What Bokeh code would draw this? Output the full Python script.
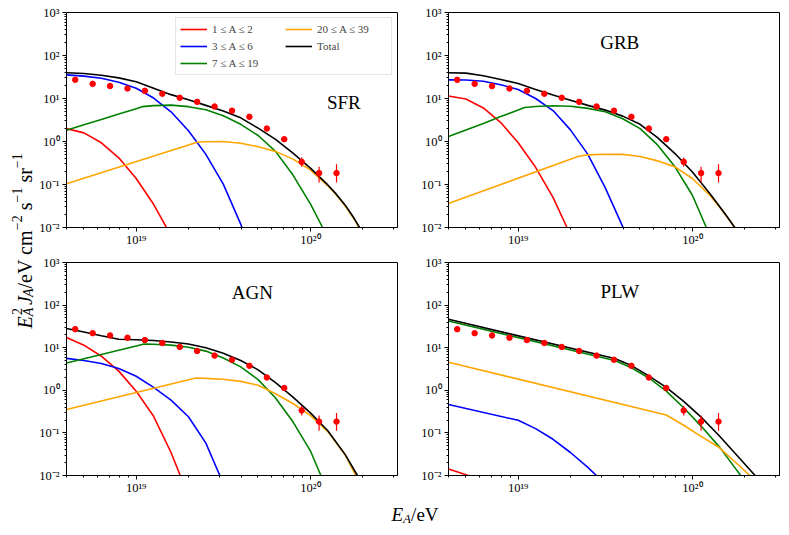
import math
from bokeh.plotting import figure
from bokeh.models import (Range1d, FixedTicker, CustomJSTickFormatter, Legend,
                          LegendItem, Label)
from bokeh.core.properties import value
from bokeh.layouts import row, column
from bokeh.embed import file_html
from bokeh.resources import INLINE

# ---------------- data (log10 E/eV for energies) ----------------
DATA_LGE = [18.65, 18.75, 18.85, 18.95, 19.05, 19.15, 19.25, 19.35,
            19.45, 19.55, 19.65, 19.75, 19.85, 19.95, 20.05, 20.15]
DATA_VAL = [27.2, 21.9, 19.4, 17.1, 15.1, 12.9, 10.4, 8.36,
            6.52, 5.21, 3.75, 2.00, 1.13, 0.336, 0.184, 0.184]
ERR_LGE = [19.95, 20.05, 20.15]
ERR_LO = [0.257, 0.112, 0.112]
ERR_HI = [0.427, 0.257, 0.295]

# curves: log10 E and log10 (E^2 J)
SFR_RED_X = [18.6, 18.7, 18.8, 18.9, 19.0, 19.1, 19.2, 19.25]
SFR_RED_Y = [0.30, 0.20, -0.03, -0.38, -0.86, -1.46, -2.19, -2.6]
SFR_BLUE_X = [18.6, 18.7, 18.8, 18.9, 19.0, 19.1, 19.2, 19.3, 19.4, 19.5, 19.6, 19.65]
SFR_BLUE_Y = [1.55, 1.52, 1.47, 1.38, 1.24, 1.01, 0.69, 0.25, -0.30, -0.99, -1.92, -2.5]
SFR_GREEN_X = [18.6, 18.7, 18.8, 18.9, 19.0, 19.035, 19.1, 19.2, 19.3, 19.4, 19.5,
               19.6, 19.7, 19.8, 19.9, 20.0, 20.07, 20.12]
SFR_GREEN_Y = [0.26, 0.39, 0.51, 0.64, 0.76, 0.81, 0.835, 0.845, 0.81, 0.74, 0.60,
               0.40, 0.14, -0.23, -0.78, -1.45, -2.0, -2.45]
SFR_ORANGE_X = [18.6, 19.35, 19.4, 19.5, 19.6, 19.7, 19.8, 19.9, 20.0, 20.1, 20.15,
                20.2, 20.25, 20.3]
SFR_ORANGE_Y = [-0.98, -0.016, -0.005, 0.0, -0.04, -0.12, -0.23, -0.41, -0.66, -1.03, -1.25,
                -1.50, -1.80, -2.14]
SFR_TOTAL_X = [18.6, 18.7, 18.8, 18.9, 19.0, 19.1, 19.2, 19.3, 19.4, 19.5, 19.6, 19.7,
               19.8, 19.9, 20.0, 20.1, 20.15, 20.2, 20.25, 20.3]
SFR_TOTAL_Y = [1.60, 1.58, 1.54, 1.48, 1.39, 1.24, 1.09, 0.97, 0.84, 0.71, 0.55, 0.31,
               0.05, -0.27, -0.62, -1.01, -1.23, -1.48, -1.78, -2.12]

GRB_RED_X = [18.6, 18.7, 18.8, 18.9, 19.0, 19.1, 19.2, 19.28, 19.33]
GRB_RED_Y = [1.06, 0.99, 0.78, 0.44, -0.03, -0.60, -1.30, -2.0, -2.45]
GRB_BLUE_X = [18.6, 18.7, 18.8, 18.9, 19.0, 19.1, 19.2, 19.3, 19.4, 19.5, 19.6, 19.65]
GRB_BLUE_Y = [1.434, 1.43, 1.40, 1.32, 1.21, 1.00, 0.72, 0.27, -0.30, -1.08, -1.98, -2.5]
GRB_GREEN_X = [18.6, 18.7, 18.8, 18.9, 19.0, 19.037, 19.1, 19.2, 19.3, 19.4, 19.5,
               19.6, 19.7, 19.8, 19.9, 20.0, 20.08, 20.13]
GRB_GREEN_Y = [0.116, 0.27, 0.42, 0.58, 0.73, 0.79, 0.815, 0.83, 0.82, 0.77, 0.69,
               0.53, 0.30, -0.08, -0.59, -1.25, -2.0, -2.5]
GRB_ORANGE_X = [18.6, 19.343, 19.4, 19.5, 19.6, 19.7, 19.8, 19.9, 20.0, 20.1, 20.157,
                20.2, 20.243, 20.29]
GRB_ORANGE_Y = [-1.44, -0.349, -0.31, -0.295, -0.30, -0.35, -0.45, -0.59, -0.86, -1.25, -1.53,
                -1.76, -2.0, -2.35]
GRB_TOTAL_X = [18.6, 18.7, 18.8, 18.9, 19.0, 19.1, 19.2, 19.3, 19.4, 19.5, 19.6, 19.7,
               19.8, 19.9, 20.0, 20.1, 20.2, 20.243, 20.29]
GRB_TOTAL_Y = [1.60, 1.59, 1.53, 1.44, 1.35, 1.21, 1.08, 0.96, 0.84, 0.73, 0.59, 0.40,
               0.09, -0.28, -0.71, -1.21, -1.75, -2.0, -2.35]

AGN_RED_X = [18.6, 18.7, 18.8, 18.9, 19.0, 19.1, 19.2, 19.25, 19.3]
AGN_RED_Y = [1.24, 1.06, 0.80, 0.45, -0.02, -0.61, -1.46, -1.97, -2.45]
AGN_BLUE_X = [18.6, 18.7, 18.8, 18.9, 19.0, 19.1, 19.2, 19.3, 19.4, 19.48, 19.52]
AGN_BLUE_Y = [0.75, 0.70, 0.63, 0.51, 0.33, 0.07, -0.23, -0.62, -1.24, -2.0, -2.4]
AGN_GREEN_X = [18.6, 18.7, 18.8, 18.9, 19.0, 19.044, 19.1, 19.2, 19.3, 19.4, 19.5,
               19.6, 19.7, 19.8, 19.9, 20.0, 20.06, 20.11]
AGN_GREEN_Y = [0.64, 0.74, 0.84, 0.94, 1.04, 1.085, 1.08, 1.06, 1.01, 0.92, 0.76,
               0.55, 0.25, -0.18, -0.74, -1.42, -2.0, -2.5]
AGN_ORANGE_X = [18.6, 19.342, 19.4, 19.5, 19.6, 19.7, 19.8, 19.9, 20.0, 20.1, 20.2, 20.26, 20.3]
AGN_ORANGE_Y = [-0.45, 0.287, 0.28, 0.26, 0.21, 0.12, -0.08, -0.31, -0.59, -0.97, -1.52, -2.0, -2.35]
AGN_TOTAL_X = [18.6, 18.7, 18.8, 18.9, 19.0, 19.1, 19.2, 19.3, 19.4, 19.5, 19.6, 19.7,
               19.8, 19.9, 20.0, 20.1, 20.2, 20.27, 20.31]
AGN_TOTAL_Y = [1.45, 1.37, 1.28, 1.20, 1.185, 1.17, 1.135, 1.085, 1.00, 0.87, 0.70, 0.48,
               0.18, -0.16, -0.53, -0.95, -1.51, -2.0, -2.35]

PLW_RED_X = [18.6, 18.75]
PLW_RED_Y = [-1.845, -2.05]
PLW_BLUE_X = [18.6, 19.0, 19.1, 19.2, 19.3, 19.4, 19.449, 19.5]
PLW_BLUE_Y = [-0.333, -0.705, -0.90, -1.15, -1.46, -1.81, -2.0, -2.2]
PLW_GREEN_X = [18.6, 19.554, 19.65, 19.75, 19.85, 19.95, 20.05, 20.157, 20.25, 20.277, 20.32]
PLW_GREEN_Y = [1.628, 0.698, 0.53, 0.29, -0.02, -0.41, -0.84, -1.34, -1.85, -2.0, -2.3]
PLW_ORANGE_X = [18.6, 19.85, 19.95, 20.05, 20.15, 20.25, 20.33, 20.37]
PLW_ORANGE_Y = [0.659, -0.58, -0.82, -1.08, -1.33, -1.70, -2.0, -2.2]
PLW_TOTAL_X = [18.6, 19.554, 19.65, 19.75, 19.85, 19.95, 20.05, 20.15, 20.25, 20.36, 20.4]
PLW_TOTAL_Y = [1.667, 0.745, 0.58, 0.34, 0.07, -0.26, -0.63, -1.05, -1.50, -2.0, -2.2]

LEGEND_LABELS = ["1 \u2264 A \u2264 2", "3 \u2264 A \u2264 6", "7 \u2264 A \u2264 19",
                 "20 \u2264 A \u2264 39", "Total"]
COLORS = ["#ff0000", "#0000ff", "#008000", "#ffa500", "#000000"]
PANEL_NAMES = ["SFR", "GRB", "AGN", "PLW"]

Y_MAJOR = [1e-2, 1e-1, 1e0, 1e1, 1e2, 1e3]
X_MAJOR = [1e19, 1e20]

FONT = "Liberation Serif"


def tick_formatter():
    return CustomJSTickFormatter(code="""
const e = Math.round(Math.log10(tick));
const m = {"-":"\\u207B","0":"\\u2070","1":"\\u00B9","2":"\\u00B2","3":"\\u00B3",
           "4":"\\u2074","5":"\\u2075","6":"\\u2076","7":"\\u2077","8":"\\u2078","9":"\\u2079"};
return "10" + String(e).split("").map(c => m[c]).join("");
""")


def panel(name, curves, title_pos, w, h, bl, br, bt, bb, legend=False):
    p = figure(width=w, height=h, x_axis_type="log", y_axis_type="log",
               x_range=Range1d(10 ** 18.6, 10 ** 20.5), y_range=Range1d(1e-2, 1e3),
               output_backend="svg", toolbar_location=None,
               min_border_left=bl, min_border_right=br,
               min_border_top=bt, min_border_bottom=bb)
    p.grid.visible = False
    p.outline_line_color = "black"
    p.outline_line_width = 1
    p.background_fill_color = "white"
    p.border_fill_color = "white"

    y_minor = [m * 10.0 ** k for k in range(-2, 3) for m in range(2, 10)]
    x_minor = [m * 10.0 ** k for k in (18, 19, 20) for m in range(2, 10)]
    p.yaxis.ticker = FixedTicker(ticks=Y_MAJOR, minor_ticks=y_minor)
    p.xaxis.ticker = FixedTicker(ticks=X_MAJOR, minor_ticks=x_minor)
    for ax in (p.xaxis[0], p.yaxis[0]):
        ax.formatter = tick_formatter()
        ax.axis_line_color = "black"
        ax.major_tick_line_color = "black"
        ax.minor_tick_line_color = "black"
        ax.major_tick_in = 0
        ax.major_tick_out = 4
        ax.minor_tick_in = 0
        ax.minor_tick_out = 2
        ax.major_label_text_font = FONT
        ax.major_label_text_font_size = "12.5px"
        ax.major_label_text_color = "black"
    p.xaxis.major_label_standoff = 1
    p.yaxis.major_label_standoff = 3

    rends = []
    for (xs, ys), col in zip(curves, COLORS):
        r = p.line([10 ** v for v in xs], [10 ** v for v in ys],
                   line_color=col, line_width=1.6)
        rends.append(r)

    ex = [10 ** v for v in ERR_LGE]
    p.segment(x0=ex, y0=ERR_LO, x1=ex, y1=ERR_HI, line_color="#ff0000", line_width=1.2)
    p.scatter([10 ** v for v in DATA_LGE], DATA_VAL, marker="circle", size=5.5,
              fill_color="#ff0000", line_color="#ff0000")

    p.add_layout(Label(x=10 ** title_pos[0], y=10 ** title_pos[1], text=name,
                       text_align="center", text_baseline="middle",
                       text_font=FONT, text_font_size="19px", text_color="black"))

    if legend:
        items = [LegendItem(label=lab, renderers=[r]) for lab, r in zip(LEGEND_LABELS, rends)]
        leg = Legend(items=items, location="top_right", ncols=2,
                     label_text_font=FONT, label_text_font_size="11px",
                     glyph_width=27, glyph_height=14, label_height=14,
                     label_width=70, label_standoff=5, spacing=3,
                     padding=4, margin=5,
                     border_line_color="#cccccc", border_line_width=1,
                     background_fill_alpha=0.85)
        p.add_layout(leg)
    return p


tl = panel(PANEL_NAMES[0],
           [(SFR_RED_X, SFR_RED_Y), (SFR_BLUE_X, SFR_BLUE_Y), (SFR_GREEN_X, SFR_GREEN_Y),
            (SFR_ORANGE_X, SFR_ORANGE_Y), (SFR_TOTAL_X, SFR_TOTAL_Y)],
           (20.192, 0.90), 372, 254, 30, 11, 12, 27, legend=True)
tr = panel(PANEL_NAMES[1],
           [(GRB_RED_X, GRB_RED_Y), (GRB_BLUE_X, GRB_BLUE_Y), (GRB_GREEN_X, GRB_GREEN_Y),
            (GRB_ORANGE_X, GRB_ORANGE_Y), (GRB_TOTAL_X, GRB_TOTAL_Y)],
           (19.583, 2.295), 373, 254, 40, 2, 12, 27)
bl = panel(PANEL_NAMES[2],
           [(AGN_RED_X, AGN_RED_Y), (AGN_BLUE_X, AGN_BLUE_Y), (AGN_GREEN_X, AGN_GREEN_Y),
            (AGN_ORANGE_X, AGN_ORANGE_Y), (AGN_TOTAL_X, AGN_TOTAL_Y)],
           (19.667, 2.295), 372, 243, 30, 11, 8, 20)
br = panel(PANEL_NAMES[3],
           [(PLW_RED_X, PLW_RED_Y), (PLW_BLUE_X, PLW_BLUE_Y), (PLW_GREEN_X, PLW_GREEN_Y),
            (PLW_ORANGE_X, PLW_ORANGE_Y), (PLW_TOTAL_X, PLW_TOTAL_Y)],
           (19.583, 2.32), 373, 243, 40, 2, 8, 20)


def label_fig(w, h):
    f = figure(width=w, height=h, output_backend="svg", toolbar_location=None,
               min_border=0, x_axis_location=None, y_axis_location=None,
               x_range=Range1d(0, w), y_range=Range1d(0, h))
    f.grid.visible = False
    f.outline_line_color = None
    f.background_fill_color = "white"
    f.border_fill_color = "white"
    return f


def piece(f, text, x, y, size, italic, angle=0.0):
    f.text(x=[x], y=[y], text=[text], angle=angle,
           text_align="left", text_baseline="alphabetic",
           text_font=value(FONT), text_font_size=value(f"{size}px"),
           text_font_style=value("italic" if italic else "normal"),
           text_color="black")


YL_W, YL_H = 36, 533
XL_W, XL_H = 745, 36

# y-axis label (rotated), pieces: (offset along text, baseline shift, text, size, italic)
YL_PIECES = [(0, 0, "E", 20, True), (12.2, -4, "A", 14, True), (13.5, 8, "2", 14, False),
             (23.5, 0, "J", 20, True), (31.4, -4, "A", 14, True),
             (40, 0, "/eV cm", 20, False), (98.3, 8, "\u22122", 14, False),
             (118.2, 0, "s", 20, False), (126.0, 8, "\u22121", 14, False),
             (145.9, 0, "sr", 20, False), (160.3, 8, "\u22121", 14, False)]
yl = label_fig(YL_W, YL_H)
for u, v, t, s, it in YL_PIECES:
    piece(yl, t, 24 - v, (YL_H - 328) + u, s, it, angle=math.pi / 2)

XL_PIECES = [(0, 0, "E", 19, True), (11.6, -4, "A", 13, True), (19.6, 0, "/eV", 19, False)]
xl = label_fig(XL_W, XL_H)
for u, v, t, s, it in XL_PIECES:
    piece(xl, t, (391 - YL_W) + u, (533 - 514) + v, s, it)

layout = row(yl, column(row(tl, tr), row(bl, br), xl))

with open("out.html", "w", encoding="utf-8") as fh:
    fh.write(file_html(layout, INLINE))
